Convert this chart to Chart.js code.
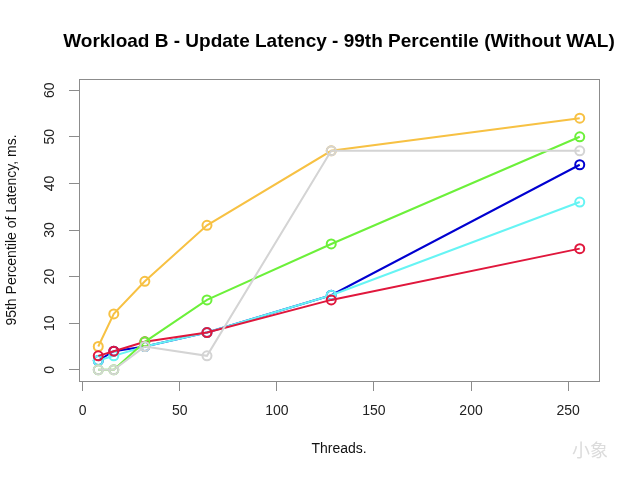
<!DOCTYPE html>
<html lang="en">
<head>
  <meta charset="UTF-8" />
  <title>Workload B - Update Latency</title>
  <script src="https://cdn.jsdelivr.net/npm/chart.js@4.4.0/dist/chart.umd.min.js"></script>
  <style>
    html, body { margin: 0; padding: 0; background: #fff; }
  </style>
</head>
<body>
  <canvas id="latChart" width="640" height="480"></canvas>

  <script>
    // ---- data -------------------------------------------------------------
    const threads = [8, 16, 32, 64, 128, 256];

    const orangeSeries = [5, 12, 19, 31, 47, 54];
    const blueSeries   = [2, 4, 5, 8, 16, 44];
    const cyanSeries   = [2, 3, 5, 8, 16, 36];
    const redSeries    = [3, 4, 6, 8, 15, 26];
    const greenSeries  = [0, 0, 6, 15, 27, 50];
    const graySeries   = [0, 0, 5, 3, 47, 47];

    const xTicks = [0, 50, 100, 150, 200, 250];
    const yTicks = [0, 10, 20, 30, 40, 50, 60];

    const chartTitle = 'Workload B - Update Latency - 99th Percentile (Without WAL)';

    const pts = arr => arr.map((v, i) => ({ x: threads[i], y: v }));

    // first dataset is drawn on top in Chart.js
    const series = [
      ['gray',   graySeries,   '#d4d4d4'],
      ['green',  greenSeries,  '#6cf03a'],
      ['red',    redSeries,    '#e0173c'],
      ['cyan',   cyanSeries,   '#66f4f4'],
      ['blue',   blueSeries,   '#0000d0'],
      ['orange', orangeSeries, '#f7c143']
    ];

    const font = 'Liberation Sans, Arial, sans-serif';

    /* box round the plot area (R style), title centred on the plot, watermark */
    const boxPlugin = {
      id: 'box',
      afterDraw(chart) {
        const { ctx, chartArea: a } = chart;
        ctx.save();
        ctx.strokeStyle = '#8c8c8c';
        ctx.lineWidth = 1;
        ctx.strokeRect(a.left + 0.5, a.top + 0.5, a.right - a.left, a.bottom - a.top);

        ctx.fillStyle = '#000';
        ctx.font = 'bold 19px ' + font;
        ctx.textAlign = 'center';
        ctx.textBaseline = 'middle';
        ctx.fillText(chartTitle, (a.left + a.right) / 2, 42);

        ctx.fillStyle = '#dcdcdc';
        ctx.font = '18px "Noto Sans CJK SC"';
        ctx.fillText('小象', 590, 450);
        ctx.restore();
      }
    };

    new Chart(document.getElementById('latChart'), {
      type: 'line',
      data: {
        datasets: series.map(([name, vals, col]) => ({
          label: name,
          data: pts(vals),
          borderColor: col,
          borderWidth: 2,
          pointRadius: 4.5,
          pointBorderWidth: 2,
          pointBorderColor: col,
          pointBackgroundColor: 'rgba(0,0,0,0)',
          tension: 0
        }))
      },
      options: {
        responsive: false,
        animation: false,
        devicePixelRatio: 1,
        layout: { padding: { left: 0, right: 41, top: 79, bottom: 0 } },
        plugins: {
          legend: { display: false },
          tooltip: { enabled: false },
          title: { display: false }
        },
        scales: {
          x: {
            type: 'linear',
            min: -1.92,
            max: 265.92,
            afterBuildTicks: s => { s.ticks = xTicks.map(v => ({ value: v })); },
            afterFit: s => { s.height = 99; },
            grid: { drawOnChartArea: false, tickLength: 10, color: '#8c8c8c' },
            border: { color: '#8c8c8c' },
            ticks: { color: '#222', font: { family: font, size: 14 }, padding: 12, maxRotation: 0 },
            title: {
              display: true, text: 'Threads.', color: '#111',
              font: { family: font, size: 14 }, padding: { top: 0, bottom: 22 }
            }
          },
          y: {
            type: 'linear',
            min: -2.4,
            max: 62.4,
            afterBuildTicks: s => { s.ticks = yTicks.map(v => ({ value: v })); },
            afterFit: s => { s.width = 79; },
            grid: { drawOnChartArea: false, tickLength: 10, color: '#8c8c8c' },
            border: { color: '#8c8c8c' },
            ticks: {
              color: '#222', font: { family: font, size: 14 },
              padding: 11, minRotation: 90, maxRotation: 90, crossAlign: 'center'
            },
            title: {
              display: true, text: '95th Percentile of Latency, ms.', color: '#111',
              font: { family: font, size: 14 }, padding: { top: 4, bottom: 0 }
            }
          }
        }
      },
      plugins: [boxPlugin]
    });
  </script>
</body>
</html>
